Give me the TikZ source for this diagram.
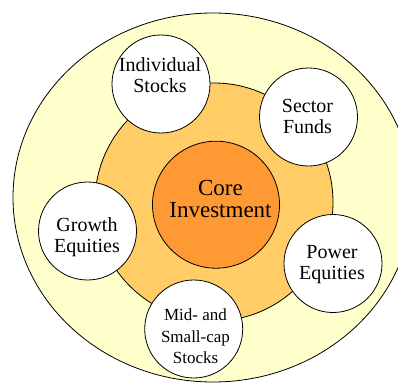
\documentclass[tikz,border=0pt]{standalone}
\usepackage{fontspec}
\setmainfont{Liberation Serif}
\definecolor{outerc}{RGB}{255,255,204}
\definecolor{midc}{RGB}{255,204,102}
\definecolor{corec}{RGB}{255,153,51}
\tikzset{
  ring/.style={draw=black, line width=0.8pt},
  sat/.style={circle, draw=black, fill=white, line width=0.8pt, minimum size=98pt, inner sep=0pt},
  lbl/.style={align=center, inner sep=0pt, font=\fontsize{20}{21}\selectfont},
  lblsmall/.style={align=center, inner sep=0pt, font=\fontsize{17}{21.6}\selectfont},
  lblcore/.style={align=center, inner sep=0pt, font=\fontsize{23}{21.2}\selectfont}
}
\begin{document}
\begin{tikzpicture}[x=1pt, y=-1pt]
\useasboundingbox (0,0) rectangle (398,385);
\clip (0,0) rectangle (398,385);
\fill[white] (0,0) rectangle (398,385);
\draw[ring, fill=outerc] (213,197.5) ellipse [x radius=200, y radius=184.5];
\node[ring, circle, fill=midc, minimum size=238pt, inner sep=0pt] (mid) at (214,202) {};
\node[ring, circle, fill=corec, minimum size=127pt, inner sep=0pt] (core) at (216,204.7) {};
\node[sat] (is) at (161,84) {};
\node[sat] (sf) at (308.5,117) {};
\node[sat] (ge) at (87.5,231) {};
\node[sat] (pe) at (333,263.5) {};
\node[sat] (ms) at (193.7,329) {};
\node[lblcore] (tcore) at (220.5,199) {Core\\Investment};
\node[lbl] (tis) at (160,75.4) {Individual\\Stocks};
\node[lbl] (tsf) at (307.5,116.8) {Sector\\Funds};
\node[lbl] (tge) at (87,237.6) {Growth\\Equities};
\node[lbl] (tpe) at (332,265) {Power\\Equities};
\node[lblsmall] (tms) at (195.5,336.5) {Mid- and\\Small-cap\\Stocks};
\end{tikzpicture}
\end{document}
